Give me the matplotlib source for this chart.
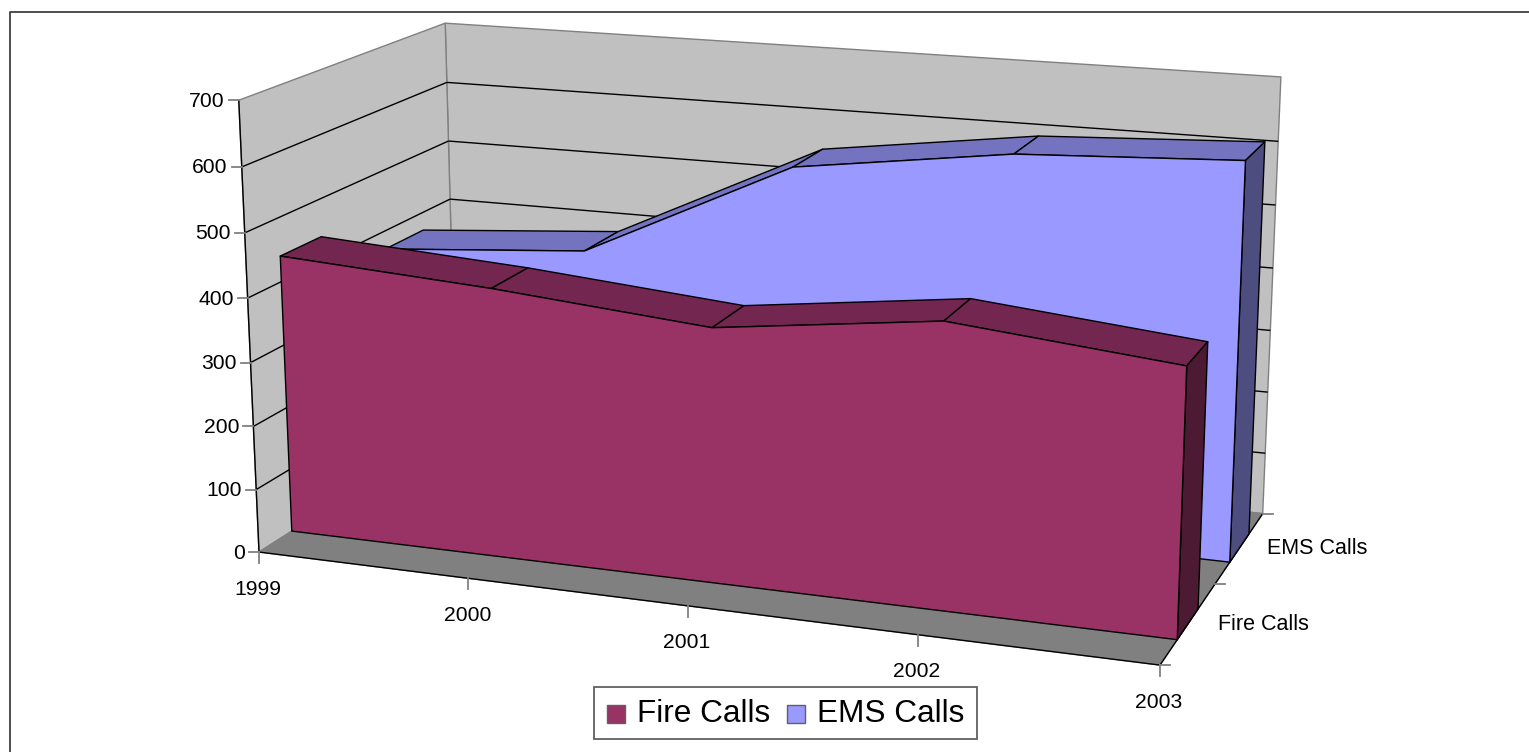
import numpy as np
import matplotlib
matplotlib.use("Agg")
import matplotlib.pyplot as plt
from matplotlib.patches import Polygon, Rectangle

plt.rcParams['font.family'] = 'Liberation Sans'

years = ["1999", "2000", "2001", "2002", "2003"]
fire_calls = [440, 420, 392, 434, 402]
ems_calls = [370, 396, 558, 604, 620]
series_names = ["Fire Calls", "EMS Calls"]
value_ticks = [0, 100, 200, 300, 400, 500, 600, 700]

calib = [
 (0,0,0,259.3,552.7),(0,0,1,239.3,100.7),(0,1,1,445,22.7),(1,1,1,1281,76.7),(1,1,0,1263.3,514.3),(1,0,0,1159.3,666),
 (0,0,100/700,256,488.7),(0,0,200/700,253.3,426.7),(0,0,300/700,250,362.7),(0,0,400/700,247.7,298.7),(0,0,500/700,244.3,232.7),(0,0,600/700,242,166.7),
 (0,1,600/700,446.7,82.7),(0,1,500/700,448.3,141),(0,1,400/700,450.7,199),
 (1,1,600/700,1279,140.7),(1,1,500/700,1275,205),(1,1,400/700,1272.7,269),(1,1,300/700,1270,330.7),(1,1,200/700,1267,392),
 (0,.15,0,291.7,530.7),(1,.15,0,1177.3,640),(1,.34,0,1199.3,606),(1,.65,0,1229.3,562.3),(1,.5,0,1215,585),
]
A=[];b=[]
for X,Y,Z,u,v in calib:
    A.append([X,Y,Z,1,0,0,0,0,-u*X,-u*Y,-u*Z]);b.append(u)
    A.append([0,0,0,0,X,Y,Z,1,-v*X,-v*Y,-v*Z]);b.append(v)
p=np.linalg.lstsq(np.array(A,float),np.array(b,float),rcond=None)[0]
P=np.append(p,1).reshape(3,4)
def proj(x,y,z):
    q=P@np.array([x,y,z,1.0])
    return q[0]/q[2],q[1]/q[2]

fig=plt.figure(figsize=(15.29,7.52),dpi=100)
ax=fig.add_axes([0,0,1,1]);ax.set_xlim(0,1529);ax.set_ylim(752,0);ax.axis("off")
def poly(pts,fc,ec="black",lw=1.0,z=1):
    ax.add_patch(Polygon([proj(*q) for q in pts],closed=True,fc=fc,ec=ec,lw=lw,zorder=z,joinstyle="round"))
def line(a,b,c="black",lw=1.0,z=2):
    pa,pb=proj(*a),proj(*b)
    ax.plot([pa[0],pb[0]],[pa[1],pb[1]],color=c,lw=lw,zorder=z,solid_capstyle="butt")

ax.plot([9.5,9.5,1529],[752,11.5,11.5],color="#404040",lw=1.3,clip_on=False)
poly([(0,1,0),(1,1,0),(1,1,1),(0,1,1)],"#C0C0C0","#808080")
poly([(0,0,0),(0,1,0),(0,1,1),(0,0,1)],"#C0C0C0","#808080")
poly([(0,0,0),(1,0,0),(1,1,0),(0,1,0)],"#808080","#808080")
line((0,0,0),(1,0,0));line((1,0,0),(1,1,0));line((0,0,0),(0,0,1))
for t in value_ticks[1:-1]:
    z=t/700
    line((0,0,z),(0,1,z));line((0,1,z),(1,1,z))
for t in value_ticks:
    u,v=proj(0,0,t/700)
    ax.plot([u-10,u],[v,v],color="#808080",lw=1.3,zorder=3)
    ax.text(u-14,v+1,str(t),ha="right",va="center",fontsize=15.2,color="black",zorder=5)
for i,y_ in enumerate(years):
    u,v=proj(i/4,0,0)
    ax.plot([u,u],[v,v+11],color="#808080",lw=1.3,zorder=3)
    ax.text(u-1,v+37,y_,ha="center",va="center",fontsize=15.2,zorder=5)
for d in (0,.5,1):
    u,v=proj(1,d,0)
    ax.plot([u,u+10],[v,v],color="#808080",lw=1.3,zorder=3)
for name,d,dx in zip(series_names,(.25,.75),(30,28)):
    u,v=proj(1,d,0)
    ax.text(u+dx,v+1,name,ha="left",va="center",fontsize=15.5,zorder=5)

def area(vals,y0,y1,front,top,side,z):
    n=len(vals)
    xs=[i/(n-1) for i in range(n)]
    zs=[w/700 for w in vals]
    for i in range(n-1):
        poly([(xs[i],y0,zs[i]),(xs[i+1],y0,zs[i+1]),(xs[i+1],y1,zs[i+1]),(xs[i],y1,zs[i])],top,z=z)
    poly([(1,y0,0),(1,y1,0),(1,y1,zs[-1]),(1,y0,zs[-1])],side,z=z)
    poly([(xs[i],y0,zs[i]) for i in range(n)]+[(1,y0,0),(0,y0,0)],front,z=z+.5)
area(ems_calls,.65,.85,"#9999FF","#7373BF","#4D4D80",6)
area(fire_calls,.15,.34,"#993366","#732650","#4D1A33",8)

ax.add_patch(Rectangle((594.3,686.7),382.7,52.3,fc="white",ec="#606060",lw=1.3,zorder=10))
for x0,name,tx,col in [(606.7,"Fire Calls",637,"#993366"),(786.7,"EMS Calls",817.3,"#9999FF")]:
    ax.add_patch(Rectangle((x0,705),18.4,18.3,fc=col,ec="#606060",lw=1,zorder=11))
    ax.text(tx,713.5,name,ha="left",va="center",fontsize=22.7,zorder=11)
fig.savefig("out.png",dpi=100)
